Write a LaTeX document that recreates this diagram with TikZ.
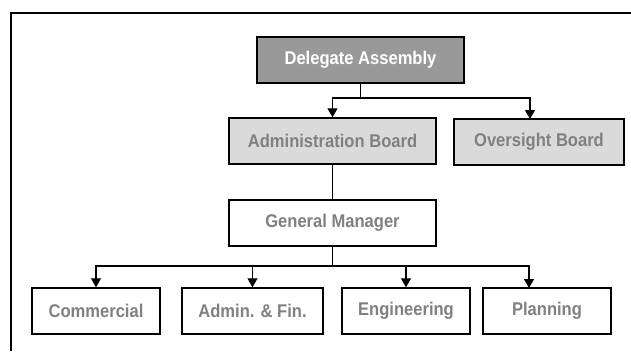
\documentclass[tikz,border=0pt]{standalone}
\usepackage{fontspec}
\setmainfont{Liberation Sans}[FakeStretch=0.9]
\usetikzlibrary{arrows.meta}

\definecolor{grisosc}{RGB}{153,153,153}
\definecolor{grisclaro}{RGB}{218,218,218}
\definecolor{gristexto}{RGB}{128,128,128}

\tikzset{
  caja/.style={draw, line width=1.4pt, inner sep=0pt, minimum height=46pt,
    font=\fontsize{18.4}{22}\selectfont\bfseries, text=gristexto, fill=white},
  flecha/.style={line width=1.1pt, -{Triangle[width=10pt,length=9pt]}},
  linea/.style={line width=1.1pt}
}

\begin{document}
\begin{tikzpicture}[x=1pt, y=-1pt]
        \useasboundingbox (0,0) rectangle (631,351);

        % Marco
        \draw[line width=2pt] (10.5,351) -- (10.5,12.5) -- (631,12.5);

        % Cajas
        \node[caja, fill=grisosc, text=white, minimum width=207pt] (asamblea) at (360.5,60) {Delegate Assembly};
        \node[caja, fill=grisclaro, minimum width=207pt] (admin) at (332.5,141) {Administration Board};
        \node[caja, fill=grisclaro, minimum width=170pt] (vigilancia) at (539,142) {Oversight Board};
        \node[caja, minimum width=207pt] (gerente) at (332.5,223) {General Manager};
        \node[caja, minimum width=128pt] (comercial) at (96,311) {Commercial};
        \node[caja, minimum width=141pt] (admfin) at (252.5,311) {Admin. \& Fin.};
        \node[caja, minimum width=128pt] (ingenieria) at (406,311) {Engineering};
        \node[caja, minimum width=128pt] (planeacion) at (547,311) {Planning};

        % Puntos de ramificacion
        \coordinate (rama1) at (360.5,98);
        \coordinate (vigent) at (530,119);
        \coordinate (rama2) at (332.5,266);
        \coordinate (planent) at (529,288);

        % Conexiones
        \draw[linea] (asamblea.south) -- (rama1);
        \draw[flecha] (rama1) -| (admin.north);
        \draw[flecha] (rama1) -| (vigent);
        \draw[linea] (admin.south) -- (gerente.north);
        \draw[linea] (gerente.south) -- (rama2);
        \draw[flecha] (rama2) -| (comercial.north);
        \draw[flecha] (rama2) -| (admfin.north);
        \draw[flecha] (rama2) -| (ingenieria.north);
        \draw[flecha] (rama2) -| (planent);
    \end{tikzpicture}
\end{document}
